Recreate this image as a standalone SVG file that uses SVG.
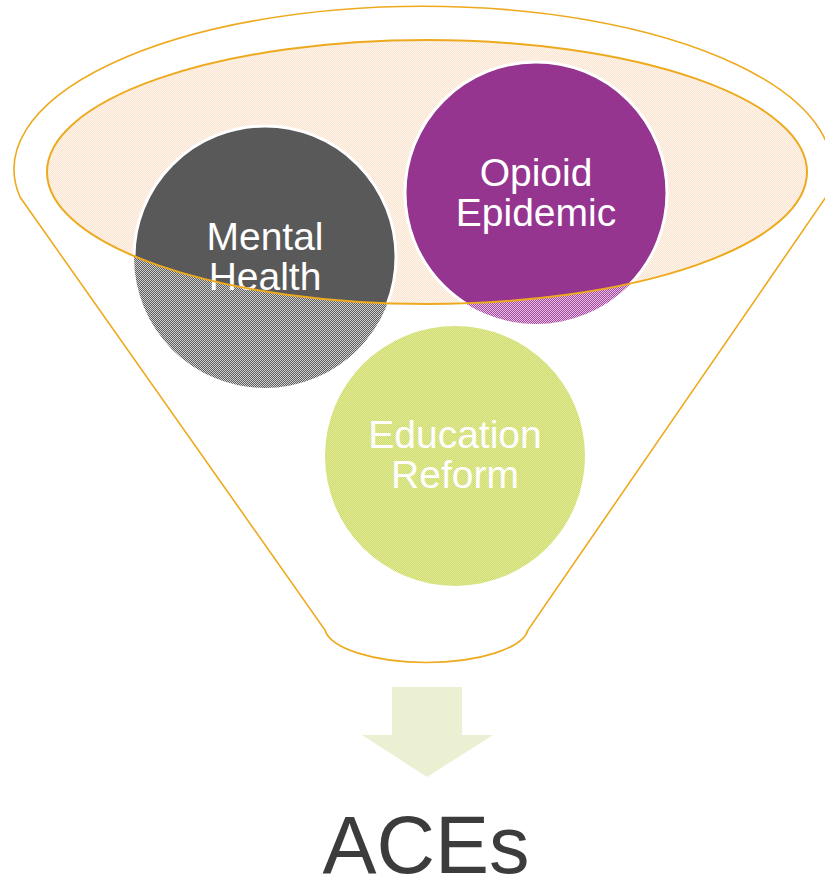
<svg xmlns="http://www.w3.org/2000/svg" width="825" height="878" viewBox="0 0 825 878">
  <style>
    .funnel-line { fill: none; stroke: #EEAA1E; stroke-width: 1.6; }
    .rim { fill: none; stroke: #EEAA1E; stroke-width: 2; }
    .circle-edge { stroke: #FFFFFF; stroke-width: 3; }
    .label { font-family: "Liberation Sans", Arial, sans-serif; font-size: 39px; fill: #FFFFFF; text-anchor: middle; }
    .aces { font-family: "Liberation Sans", Arial, sans-serif; font-size: 81px; fill: #3C3C3C; text-anchor: middle; }
    pattern rect { shape-rendering: crispEdges; }
  </style>
  <defs>
    <pattern id="pGray" width="2" height="2" patternUnits="userSpaceOnUse">
      <rect width="2" height="2" fill="#5E5E5E"/>
      <rect width="1" height="1" fill="#CFCFCF"/>
      <rect x="1" y="1" width="1" height="1" fill="#CFCFCF"/>
    </pattern>
    <pattern id="pPurple" width="2" height="2" patternUnits="userSpaceOnUse">
      <rect width="2" height="2" fill="#A24A9E"/>
      <rect width="1" height="1" fill="#E6BEE3"/>
      <rect x="1" y="1" width="1" height="1" fill="#E6BEE3"/>
    </pattern>
    <pattern id="pGreen" width="2" height="2" patternUnits="userSpaceOnUse">
      <rect width="2" height="2" fill="#CFDC6C"/>
      <rect width="1" height="1" fill="#E2EA9C"/>
      <rect x="1" y="1" width="1" height="1" fill="#E2EA9C"/>
    </pattern>
    <pattern id="pPeach" width="2" height="2" patternUnits="userSpaceOnUse">
      <rect width="2" height="2" fill="#FAE6D2"/>
      <rect width="1" height="1" fill="#FDF3E9"/>
      <rect x="1" y="1" width="1" height="1" fill="#FDF3E9"/>
    </pattern>
    <clipPath id="innerClip">
      <ellipse cx="427" cy="172" rx="380" ry="132"/>
    </clipPath>
  </defs>

  <g id="funnel">
    <path class="funnel-line" d="M 20,197 A 409 163 0 1 1 826,197 L 528,630 A 102 36 0 0 1 325,630 Z"/>
  </g>

  <g id="funnel-mouth-fill">
    <ellipse cx="427" cy="172" rx="380" ry="132" fill="url(#pPeach)"/>
  </g>

  <g id="education-reform">
    <circle cx="455" cy="456" r="130" fill="url(#pGreen)"/>
    <text class="label" x="455" y="448">Education</text>
    <text class="label" x="455" y="488">Reform</text>
  </g>

  <g id="mental-health">
    <circle cx="265" cy="257" r="131" fill="url(#pGray)"/>
    <circle class="circle-edge" cx="265" cy="257" r="131" fill="#595959" clip-path="url(#innerClip)"/>
    <text class="label" x="265" y="250">Mental</text>
    <text class="label" x="265" y="290">Health</text>
  </g>

  <g id="opioid-epidemic">
    <circle cx="536" cy="193" r="131" fill="url(#pPurple)"/>
    <circle class="circle-edge" cx="536" cy="193" r="131" fill="#953590" clip-path="url(#innerClip)"/>
    <text class="label" x="536" y="186">Opioid</text>
    <text class="label" x="536" y="226">Epidemic</text>
  </g>

  <g id="funnel-mouth">
    <ellipse class="rim" cx="427" cy="172" rx="380" ry="132"/>
  </g>

  <g id="connectors">
    <polygon points="392,687 462,687 462,735 493,735 427,777 362,735 392,735" fill="#EBF0D3"/>
  </g>

  <g id="aces">
    <text class="aces" x="426" y="873">ACEs</text>
  </g>
</svg>
